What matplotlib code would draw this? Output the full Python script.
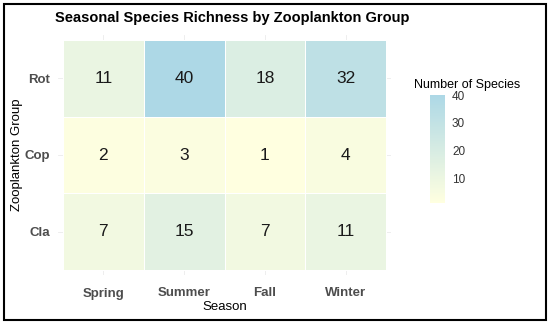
import numpy as np
import matplotlib.pyplot as plt
from matplotlib.colors import LinearSegmentedColormap
from matplotlib.patches import Rectangle

plt.rcParams["font.family"] = ["Liberation Sans", "DejaVu Sans"]

# data
seasons = ["Spring", "Summer", "Fall", "Winter"]
groups = ["Cla", "Cop", "Rot"]  # bottom to top
richness = {
    "Cla": [7, 15, 7, 11],
    "Cop": [2, 3, 1, 4],
    "Rot": [11, 40, 18, 32],
}
cbar_ticks = [10, 20, 30, 40]

vals = np.array([richness[g] for g in groups])
cmap = LinearSegmentedColormap.from_list("ly_lb", ["#ffffe0", "#add8e6"])

fig = plt.figure(figsize=(5.5, 3.24), dpi=100)
fig.patches.append(Rectangle((0.008, 0.012), 0.984, 0.975, transform=fig.transFigure,
                             fill=False, edgecolor="black", linewidth=1.5))

ax = fig.add_axes([58 / 550, 1 - 275 / 324, 333 / 550, 240 / 324])
# faint theme_minimal-ish grid peeking out around the tiles
for j in range(len(seasons)):
    ax.axvline(j, color="#ebebeb", linewidth=0.6, zorder=0)
for i in range(len(groups)):
    ax.axhline(i, color="#ebebeb", linewidth=0.6, zorder=0)
mesh = ax.pcolormesh(np.arange(5) - 0.5, np.arange(4) - 0.5, vals, cmap=cmap,
                     vmin=vals.min(), vmax=vals.max(), edgecolors="white", linewidth=0.5,
                     zorder=1)
for i, g in enumerate(groups):
    for j in range(len(seasons)):
        ax.text(j, i, str(vals[i, j]), ha="center", va="center", fontsize=12.5,
                color="#1a1a1a", zorder=2)

ax.set_xlim(-0.56, 3.56)
ax.set_ylim(-0.56, 2.56)
ax.set_xticks(range(4))
ax.set_xticklabels(seasons, fontsize=9.5, fontweight="bold", color="#4d4d4d")
ax.set_yticks(range(3))
ax.set_yticklabels(groups, fontsize=9.5, fontweight="bold", color="#4d4d4d")
ax.tick_params(axis="x", length=0, pad=9)
ax.tick_params(axis="y", length=0, pad=6)
for s in ax.spines.values():
    s.set_visible(False)
ax.set_xlabel("Season", fontsize=9.5, labelpad=1)
fig.text(17 / 550, 1 - 155 / 324, "Zooplankton Group", fontsize=9.5, rotation=90,
         ha="center", va="center")
fig.text(55 / 550, 1 - 18 / 324, "Seasonal Species Richness by Zooplankton Group",
         fontsize=10.5, fontweight="bold", va="center", ha="left")

cax = fig.add_axes([430 / 550, 1 - 203 / 324, 15 / 550, 108 / 324])
cb = fig.colorbar(mesh, cax=cax, ticks=cbar_ticks)
cb.outline.set_visible(False)
cb.ax.tick_params(length=0, labelsize=8.5, colors="#333333", pad=5)
fig.text(414 / 550, 1 - 85 / 324, "Number of Species", fontsize=9, ha="left", va="center")

fig.savefig("out.png", dpi=100)
